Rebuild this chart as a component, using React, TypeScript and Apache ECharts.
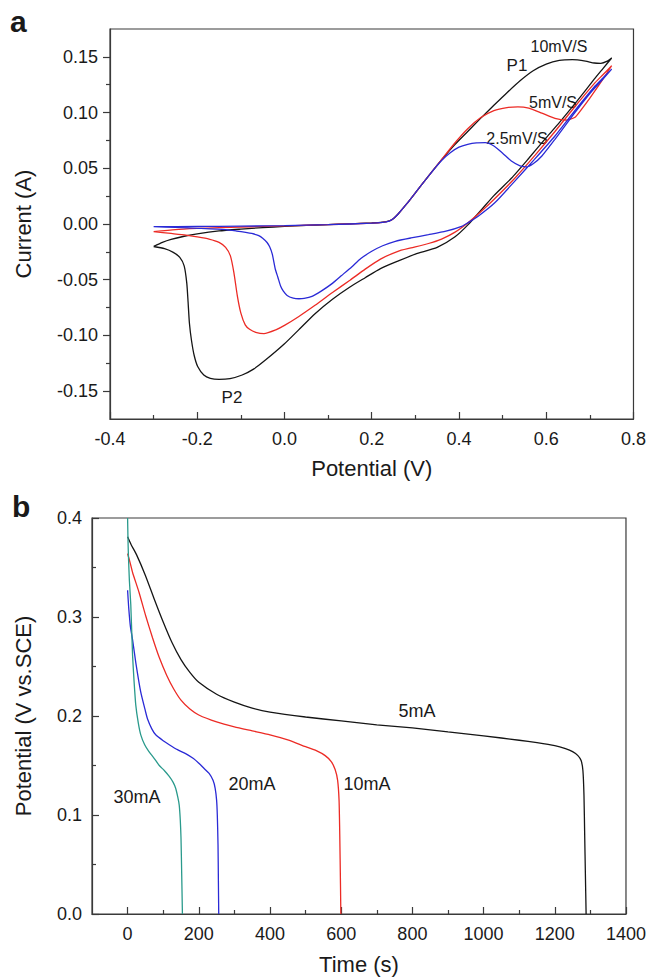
import React, { useEffect, useRef } from 'react';
import * as echarts from 'echarts';

// ---------- Panel a: cyclic voltammetry (Potential V, Current A) ----------
const cv10: [number, number][] = [
  [-0.3, -0.0202], [-0.28, -0.0165], [-0.26, -0.0138], [-0.23, -0.011], [-0.2, -0.0088], [-0.15, -0.0062],
  [-0.1, -0.0046], [-0.05, -0.0032], [0, -0.0022], [0.05, -0.0013], [0.1, -0.0005], [0.15, 0.0002],
  [0.2, 0.0009], [0.225, 0.0016], [0.24, 0.0028], [0.25, 0.005], [0.26, 0.0088], [0.28, 0.018],
  [0.3, 0.028], [0.33, 0.043], [0.36, 0.0575], [0.39, 0.071], [0.42, 0.083], [0.45, 0.095],
  [0.48, 0.1065], [0.51, 0.1178], [0.54, 0.1285], [0.57, 0.1375], [0.6, 0.1435], [0.63, 0.1468],
  [0.66, 0.1475], [0.69, 0.1462], [0.71, 0.1445], [0.725, 0.1442], [0.74, 0.1462], [0.75, 0.149],
  [0.73, 0.1395], [0.71, 0.13], [0.67, 0.11], [0.63, 0.091], [0.6, 0.0775], [0.56, 0.059],
  [0.52, 0.041], [0.48, 0.0255], [0.452, 0.013], [0.421, -0.0006], [0.391, -0.0115], [0.35, -0.021],
  [0.3, -0.027], [0.26, -0.0333], [0.22, -0.04], [0.185, -0.0482], [0.15, -0.0565], [0.11, -0.0675],
  [0.07, -0.0805], [0.033, -0.0948], [0, -0.1075], [-0.043, -0.1219], [-0.07, -0.13], [-0.097, -0.1355],
  [-0.125, -0.1387], [-0.15, -0.1394], [-0.17, -0.1385], [-0.185, -0.1355], [-0.199, -0.1279],
  [-0.207, -0.118], [-0.213, -0.105], [-0.218, -0.0888], [-0.221, -0.07], [-0.224, -0.053],
  [-0.23, -0.0376], [-0.24, -0.03], [-0.255, -0.0255], [-0.275, -0.0222], [-0.3, -0.0202],
];
const cv5: [number, number][] = [
  [-0.3, -0.0069], [-0.25, -0.005], [-0.2, -0.004], [-0.15, -0.0033], [-0.1, -0.0027], [-0.05, -0.0022],
  [0, -0.0017], [0.05, -0.0011], [0.1, -0.0005], [0.15, 0.0001], [0.2, 0.0008], [0.225, 0.0015],
  [0.24, 0.0027], [0.25, 0.005], [0.26, 0.0088], [0.28, 0.018], [0.3, 0.028], [0.33, 0.043],
  [0.36, 0.0578], [0.39, 0.0725], [0.42, 0.0855], [0.45, 0.0955], [0.48, 0.1018], [0.51, 0.1045],
  [0.535, 0.1052], [0.56, 0.104], [0.59, 0.0995], [0.62, 0.0948], [0.645, 0.0932], [0.665, 0.0955],
  [0.68, 0.1025], [0.7, 0.113], [0.725, 0.127], [0.75, 0.142],
  [0.73, 0.134], [0.71, 0.126], [0.665, 0.105], [0.62, 0.083], [0.575, 0.062], [0.53, 0.042],
  [0.48, 0.022], [0.45, 0.011], [0.42, 0.001], [0.39, -0.0075], [0.36, -0.0135], [0.33, -0.0175],
  [0.29, -0.0215], [0.26, -0.0245], [0.22, -0.0315], [0.185, -0.0405], [0.15, -0.0505], [0.11, -0.0615],
  [0.07, -0.073], [0.033, -0.083], [0, -0.091], [-0.02, -0.095], [-0.047, -0.0984], [-0.066, -0.0972],
  [-0.08, -0.0945], [-0.09, -0.0905], [-0.1, -0.08], [-0.108, -0.0647], [-0.116, -0.0436],
  [-0.124, -0.0286], [-0.135, -0.021], [-0.15, -0.0165], [-0.173, -0.0135], [-0.2, -0.0115],
  [-0.226, -0.0099], [-0.26, -0.0085], [-0.3, -0.0069],
];
const cv25: [number, number][] = [
  [-0.3, -0.0024], [-0.2, -0.0022], [-0.1, -0.0019], [0, -0.0015], [0.1, -0.0006], [0.2, 0.0007],
  [0.225, 0.0014], [0.24, 0.0026], [0.25, 0.005], [0.26, 0.0088], [0.28, 0.018], [0.3, 0.028],
  [0.33, 0.043], [0.36, 0.057], [0.38, 0.064], [0.4, 0.069], [0.42, 0.0715], [0.44, 0.0728],
  [0.46, 0.073], [0.48, 0.07], [0.5, 0.0635], [0.52, 0.0565], [0.54, 0.0522], [0.555, 0.0512],
  [0.57, 0.054], [0.59, 0.061], [0.62, 0.076], [0.66, 0.097], [0.7, 0.117], [0.73, 0.13], [0.75, 0.139],
  [0.73, 0.131], [0.71, 0.123], [0.665, 0.1015], [0.62, 0.079], [0.573, 0.058], [0.528, 0.0385],
  [0.482, 0.019], [0.444, 0.007], [0.42, 0.001], [0.406, -0.0021], [0.37, -0.0065], [0.33, -0.0096],
  [0.29, -0.0125], [0.254, -0.0155], [0.225, -0.0195], [0.2, -0.0245], [0.175, -0.031], [0.154, -0.0385],
  [0.13, -0.0465], [0.109, -0.0535], [0.085, -0.06], [0.063, -0.065], [0.045, -0.0668], [0.033, -0.0671],
  [0.02, -0.0665], [0.006, -0.0641], [-0.003, -0.06], [-0.009, -0.0557], [-0.015, -0.048],
  [-0.021, -0.0406], [-0.028, -0.0271], [-0.034, -0.0205], [-0.04, -0.0166], [-0.05, -0.0128],
  [-0.059, -0.0105], [-0.075, -0.0085], [-0.089, -0.0075], [-0.11, -0.0063], [-0.135, -0.0051],
  [-0.195, -0.0039], [-0.25, -0.003], [-0.3, -0.0024],
];
const cvYMajor = [-0.15, -0.1, -0.05, 0, 0.05, 0.1, 0.15];
const cvYMinor = [-0.125, -0.075, -0.025, 0.025, 0.075, 0.125];

// ---------- Panel b: galvanostatic discharge (Time s, Potential V vs. SCE) ----------
const gcd5: [number, number][] = [
  [0, 0.381], [10, 0.373], [25, 0.363], [50, 0.342], [75, 0.318], [100, 0.295], [125, 0.274],
  [150, 0.257], [175, 0.244], [200, 0.234], [250, 0.222], [300, 0.214], [350, 0.208], [400, 0.204],
  [500, 0.199], [600, 0.195], [700, 0.191], [800, 0.188], [900, 0.184], [1000, 0.18], [1100, 0.1755],
  [1150, 0.173], [1200, 0.17], [1230, 0.167], [1250, 0.164], [1265, 0.16], [1274, 0.155],
  [1279, 0.145], [1282, 0.12], [1284, 0.08], [1286, 0.04], [1288, 0],
];
const gcd10: [number, number][] = [
  [0, 0.364], [7, 0.355], [14, 0.345], [32, 0.325], [51, 0.301], [70, 0.279], [89, 0.259],
  [110, 0.241], [130, 0.227], [150, 0.216], [175, 0.207], [200, 0.201], [250, 0.194], [300, 0.189],
  [350, 0.185], [400, 0.181], [450, 0.176], [500, 0.169], [530, 0.165], [555, 0.16], [572, 0.154],
  [583, 0.146], [590, 0.135], [594, 0.115], [596, 0.08], [598, 0.03], [599, 0],
];
const gcd20: [number, number][] = [
  [0, 0.327], [3, 0.31], [8, 0.29], [14, 0.277], [23, 0.254], [37, 0.224], [50, 0.205], [56, 0.197],
  [68, 0.187], [79, 0.181], [100, 0.175], [117, 0.171], [140, 0.166], [163, 0.162], [185, 0.157],
  [201, 0.152], [215, 0.147], [229, 0.142], [240, 0.135], [246, 0.127], [250, 0.115], [252, 0.1],
  [254, 0.07], [255, 0.035], [256, 0],
];
const gcd30: [number, number][] = [
  [0, 0.4], [1, 0.38], [2.3, 0.362], [5, 0.337], [9, 0.312], [14, 0.261], [18, 0.236], [23, 0.211],
  [30, 0.193], [37, 0.181], [48, 0.171], [60, 0.164], [75, 0.157], [89, 0.15], [103, 0.145],
  [117, 0.139], [128, 0.133], [135, 0.127], [141, 0.118], [145, 0.11], [148, 0.095], [150, 0.077],
  [152, 0.04], [154, 0],
];
const gcdXMajor = [0, 200, 400, 600, 800, 1000, 1200, 1400];
const gcdXMinor = [100, 300, 500, 700, 900, 1100, 1300];

const FONT = '"Liberation Sans", Arial, Helvetica, sans-serif';
const AX = '#3a3a3a';
const TXT = '#1a1a1a';
const C_BLACK = '#151515';
const C_RED = '#ec2b25';
const C_BLUE = '#2a2ad6';
const C_TEAL = '#2a9a8c';

const lbl = (text: string, x: number, y: number, size: number, weight = 'normal', align = 'center') => ({
  type: 'text',
  x,
  y,
  silent: true,
  style: {
    text,
    fill: TXT,
    font: `${weight} ${size}px ${FONT}`,
    align,
    verticalAlign: 'middle',
    textAlign: align,
    textVerticalAlign: 'middle',
  },
});

const axisLineStyle = { color: AX, width: 1.2 };

export default function App() {
  const ref = useRef<HTMLDivElement>(null);
  useEffect(() => {
    const chart = echarts.init(ref.current!, null, { renderer: 'svg' });
    const line = (name: string, data: [number, number][], color: string, xi: number, yi: number) => ({
      name,
      type: 'line',
      data,
      xAxisIndex: xi,
      yAxisIndex: yi,
      showSymbol: false,
      symbol: 'none',
      smooth: 0.2,
      lineStyle: { color, width: 1.3 },
      itemStyle: { color },
      emphasis: { disabled: true },
    });
    chart.setOption({
      animation: false,
      backgroundColor: '#ffffff',
      textStyle: { fontFamily: FONT },
      grid: [
        { left: 110, top: 29, width: 526, height: 390, show: true, borderColor: AX, borderWidth: 1.2, backgroundColor: 'transparent' },
        { left: 92, top: 518, width: 535, height: 396, show: true, borderColor: AX, borderWidth: 1.2, backgroundColor: 'transparent' },
      ],
      xAxis: [
        {
          gridIndex: 0, type: 'value', position: 'bottom', min: -0.4, max: 0.8, interval: 0.2,
          axisLine: { show: true, onZero: false, lineStyle: axisLineStyle },
          axisTick: { show: true, inside: true, length: 7, lineStyle: axisLineStyle },
          minorTick: { show: true, splitNumber: 2, length: 4, lineStyle: axisLineStyle },
          axisLabel: { fontSize: 18, color: TXT, margin: 11, fontFamily: FONT, formatter: (v: number) => v.toFixed(1) },
          splitLine: { show: false },
          name: 'Potential (V)', nameLocation: 'middle', nameGap: 38,
          nameTextStyle: { fontSize: 22, color: TXT, fontFamily: FONT },
        },
        {
          gridIndex: 1, type: 'value', position: 'bottom', min: -100, max: 1400,
          axisLine: { show: true, onZero: false, lineStyle: axisLineStyle },
          axisTick: { show: true, inside: true, length: 7, lineStyle: axisLineStyle, customValues: gcdXMajor },
          axisLabel: { fontSize: 18, color: TXT, margin: 11, fontFamily: FONT, customValues: gcdXMajor, formatter: (v: number) => String(v) },
          splitLine: { show: false },
          name: 'Time (s)', nameLocation: 'middle', nameGap: 39,
          nameTextStyle: { fontSize: 22, color: TXT, fontFamily: FONT },
        },
        {
          gridIndex: 1, type: 'value', position: 'bottom', min: -100, max: 1400,
          axisLine: { show: false, onZero: false },
          axisTick: { show: true, inside: true, length: 4, lineStyle: axisLineStyle, customValues: gcdXMinor },
          axisLabel: { show: false },
          splitLine: { show: false },
        },
      ],
      yAxis: [
        {
          gridIndex: 0, type: 'value', position: 'left', min: -0.175, max: 0.175,
          axisLine: { show: true, onZero: false, lineStyle: axisLineStyle },
          axisTick: { show: true, inside: false, length: 7, lineStyle: axisLineStyle, customValues: cvYMajor },
          axisLabel: { fontSize: 18, color: TXT, margin: 12, fontFamily: FONT, customValues: cvYMajor, formatter: (v: number) => v.toFixed(2) },
          splitLine: { show: false },
          name: 'Current (A)', nameLocation: 'middle', nameGap: 76,
          nameTextStyle: { fontSize: 22, color: TXT, fontFamily: FONT },
        },
        {
          gridIndex: 0, type: 'value', position: 'left', min: -0.175, max: 0.175,
          axisLine: { show: false, onZero: false },
          axisTick: { show: true, inside: false, length: 4, lineStyle: axisLineStyle, customValues: cvYMinor },
          axisLabel: { show: false },
          splitLine: { show: false },
        },
        {
          gridIndex: 1, type: 'value', position: 'left', min: 0, max: 0.4, interval: 0.1,
          axisLine: { show: true, onZero: false, lineStyle: axisLineStyle },
          axisTick: { show: true, inside: true, length: 7, lineStyle: axisLineStyle },
          minorTick: { show: true, splitNumber: 2, length: 4, lineStyle: axisLineStyle },
          axisLabel: { fontSize: 18, color: TXT, margin: 10, fontFamily: FONT, formatter: (v: number) => v.toFixed(1) },
          splitLine: { show: false },
          name: 'Potential (V vs.SCE)', nameLocation: 'middle', nameGap: 58,
          nameTextStyle: { fontSize: 22, color: TXT, fontFamily: FONT },
        },
      ],
      series: [
        line('10mV/S', cv10, C_BLACK, 0, 0),
        line('5mV/S', cv5, C_RED, 0, 0),
        line('2.5mV/S', cv25, C_BLUE, 0, 0),
        line('5mA', gcd5, C_BLACK, 1, 2),
        line('10mA', gcd10, C_RED, 1, 2),
        line('20mA', gcd20, C_BLUE, 1, 2),
        line('30mA', gcd30, C_TEAL, 1, 2),
      ],
      graphic: [
        lbl('a', 10, 21, 30, 'bold', 'left'),
        lbl('b', 12, 506, 30, 'bold', 'left'),
        lbl('10mV/S', 559, 46, 16),
        lbl('P1', 517, 65, 17),
        lbl('5mV/S', 553, 102, 16),
        lbl('2.5mV/S', 517, 138, 16),
        lbl('P2', 232, 397, 17),
        lbl('5mA', 417, 711, 18),
        lbl('10mA', 367, 784, 18),
        lbl('20mA', 252, 784, 18),
        lbl('30mA', 137, 797, 18),
      ],
    });
    return () => chart.dispose();
  }, []);
  return (
    <div
      ref={ref}
      style={{ position: 'fixed', left: 0, top: 0, width: 649, height: 977, background: '#fff' }}
    />
  );
}
